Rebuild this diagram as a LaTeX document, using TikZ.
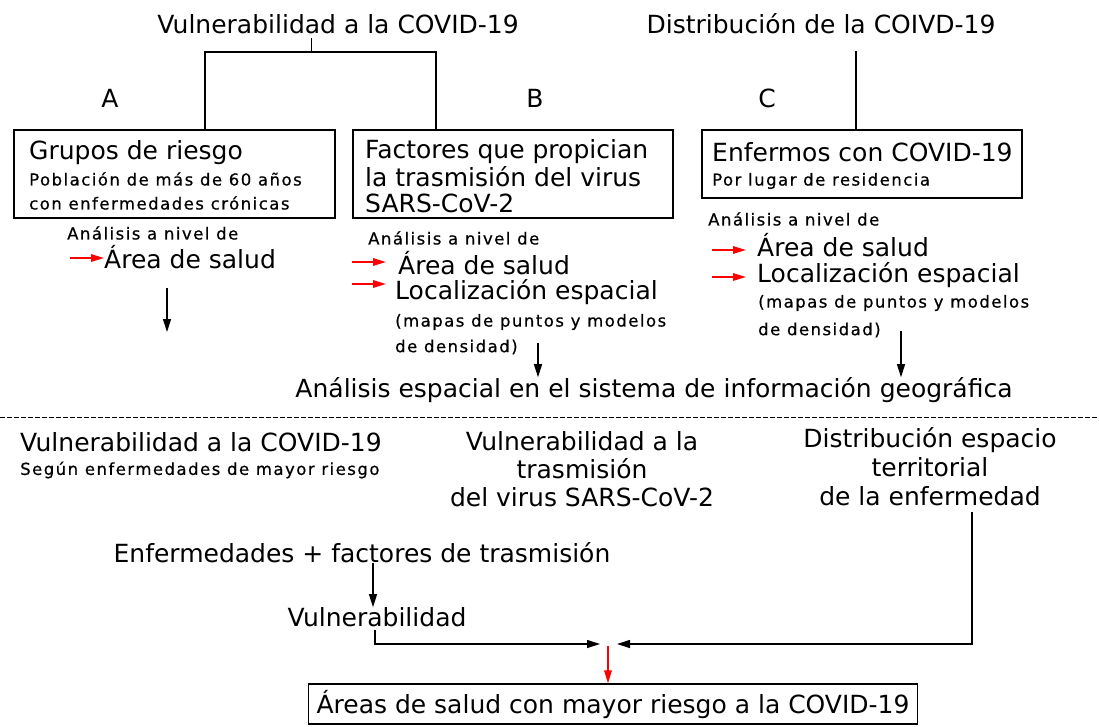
\documentclass[tikz,border=0pt]{standalone}
\usepackage{fontspec}
\setmainfont{DejaVu Sans}
\newfontfamily\smallfam[LetterSpace=9,FakeBold=0.6]{DejaVu Sans}
\usetikzlibrary{arrows.meta}
\tikzset{
  big/.style={font=\fontsize{25}{28}\selectfont, inner sep=0pt},
  small/.style={font=\smallfam\fontsize{16.5}{19}\selectfont, inner sep=0pt},
  boxx/.style={draw, line width=1.3pt},
  blk/.style={line width=1.2pt, -{Triangle[length=13pt,width=8pt]}},
  redarrow/.style={draw=red, line width=1.5pt, -{Triangle[length=13pt,width=7.5pt]}, fill=red},
  ln/.style={line width=1.3pt},
}
\begin{document}
\begin{tikzpicture}[x=1pt,y=-1pt]
\useasboundingbox (0,0) rectangle (1099,726);
% top titles
\node[big] (t1) at (338,24) {Vulnerabilidad a la COVID-19};
\node[big] (t2) at (821,24) {Distribución de la COIVD-19};
\node[big] (la) at (110,98) {A};
\node[big] (lb) at (535,98) {B};
\node[big] (lc) at (767,98) {C};
% boxes
\draw[boxx] (14,130) rectangle (335,218);
\draw[boxx] (353,130) rectangle (673,218);
\draw[boxx] (702,130) rectangle (1022,198);
\coordinate (bA) at (205,130);
\coordinate (bB) at (436,130);
\coordinate (bC) at (856,130);
\coordinate (s1) at (311.5,38);
\draw[ln] (s1) -- (311.5,52) -- (205,52) -- (bA);
\draw[ln] (311.5,52) -- (436,52) -- (bB);
\coordinate (s2) at (856,51);
\draw[ln] (s2) -- (bC);
% box A text
\node[big,anchor=west] (a1) at (29,153) {Grupos de riesgo};
\node[small,anchor=west] (a2) at (29,179) {Población de más de 60 años};
\node[small,anchor=west] (a3) at (29,203) {con enfermedades crónicas};
% box B text
\node[big,anchor=west] (b1) at (365,152) {Factores que propician};
\node[big,anchor=west] (b2) at (365,177) {la trasmisión del virus};
\node[big,anchor=west] (b3) at (365,203) {SARS-CoV-2};
% box C text
\node[big,anchor=west] (c1) at (712,152) {Enfermos con COVID-19};
\node[small,anchor=west] (c2) at (712,181) {Por lugar de residencia};
% below A
\node[small,anchor=west] (aa) at (67,233) {Análisis a nivel de};
\node[big,anchor=west] (as) at (104,257) {Área de salud};
\coordinate (ra) at (70,258);
\draw[redarrow] (ra) -- (as.west |- ra);
\coordinate (aA1) at (167,288);
\coordinate (aA2) at (167,332);
\draw[blk] (aA1) -- (aA2);
% below B
\node[small,anchor=west] (ba) at (368,238) {Análisis a nivel de};
\node[big,anchor=west] (bs) at (398,263) {Área de salud};
\node[big,anchor=west] (bl) at (395,292) {Localización espacial};
\node[small,anchor=west] (bm1) at (395,322) {(mapas de puntos y modelos};
\node[small,anchor=west] (bm2) at (395,347) {de densidad)};
\coordinate (rb1) at (352,262);
\coordinate (rb1e) at (386,262);
\coordinate (rb2) at (352,284);
\coordinate (rb2e) at (386,284);
\draw[redarrow] (rb1) -- (rb1e);
\draw[redarrow] (rb2) -- (rb2e);
\coordinate (aB1) at (538,343);
% below C
\node[small,anchor=west] (ca) at (708,219) {Análisis a nivel de};
\node[big,anchor=west] (cs) at (757,245) {Área de salud};
\node[big,anchor=west] (cl) at (757,275) {Localización espacial};
\node[small,anchor=west] (cm1) at (758,303) {(mapas de puntos y modelos};
\node[small,anchor=west] (cm2) at (758,330) {de densidad)};
\coordinate (rc1) at (712,250);
\coordinate (rc2) at (712,277);
\draw[redarrow] (rc1) -- (746,250);
\draw[redarrow] (rc2) -- (746,277);
\coordinate (aC1) at (901,331);
% SIG
\node[big] (sig) at (654,390) {Análisis espacial en el sistema de información geográfica};
\draw[blk] (aB1) -- (aB1 |- sig.north);
\draw[blk] (aC1) -- (aC1 |- sig.north);
% dashed
\coordinate (d1) at (0,417);
\coordinate (d2) at (1099,417);
\draw[line width=1pt, dash pattern=on 4.5pt off 2.5pt] (d1) -- (d2);
% bottom
\node[big,anchor=west] (v1) at (20,442) {Vulnerabilidad a la COVID-19};
\node[small,anchor=west] (v2) at (20,470) {Según enfermedades de mayor riesgo};
\node[big,align=center] (vt) at (582,469) {Vulnerabilidad a la\\trasmisión\\del virus SARS-CoV-2};
\node[big,align=center] (dt) at (930,467) {Distribución espacio\\[1pt]territorial\\[1pt]de la enfermedad};
\node[big] (ef) at (362,553) {Enfermedades + factores de trasmisión};
\node[big] (vu) at (377,617) {Vulnerabilidad};
\coordinate (ax) at (373,580);
\draw[blk] (ef.south -| ax) -- (vu.north -| ax);
\coordinate (m1) at (600,644);
\coordinate (m2) at (617,644);
\coordinate (vs) at (375,630);
\draw[blk] (vs) -- (375,644) -- (m1);
\coordinate (ds) at (972,512);
\draw[blk] (ds) -- (972,644) -- (m2);
\node[big,draw,line width=1.3pt,inner xsep=8pt,minimum height=40pt] (fin) at (613,704) {Áreas de salud con mayor riesgo a la COVID-19};
\coordinate (rr) at (608,646);
\draw[redarrow] (rr) -- (fin.north -| rr);
\end{tikzpicture}
\end{document}
